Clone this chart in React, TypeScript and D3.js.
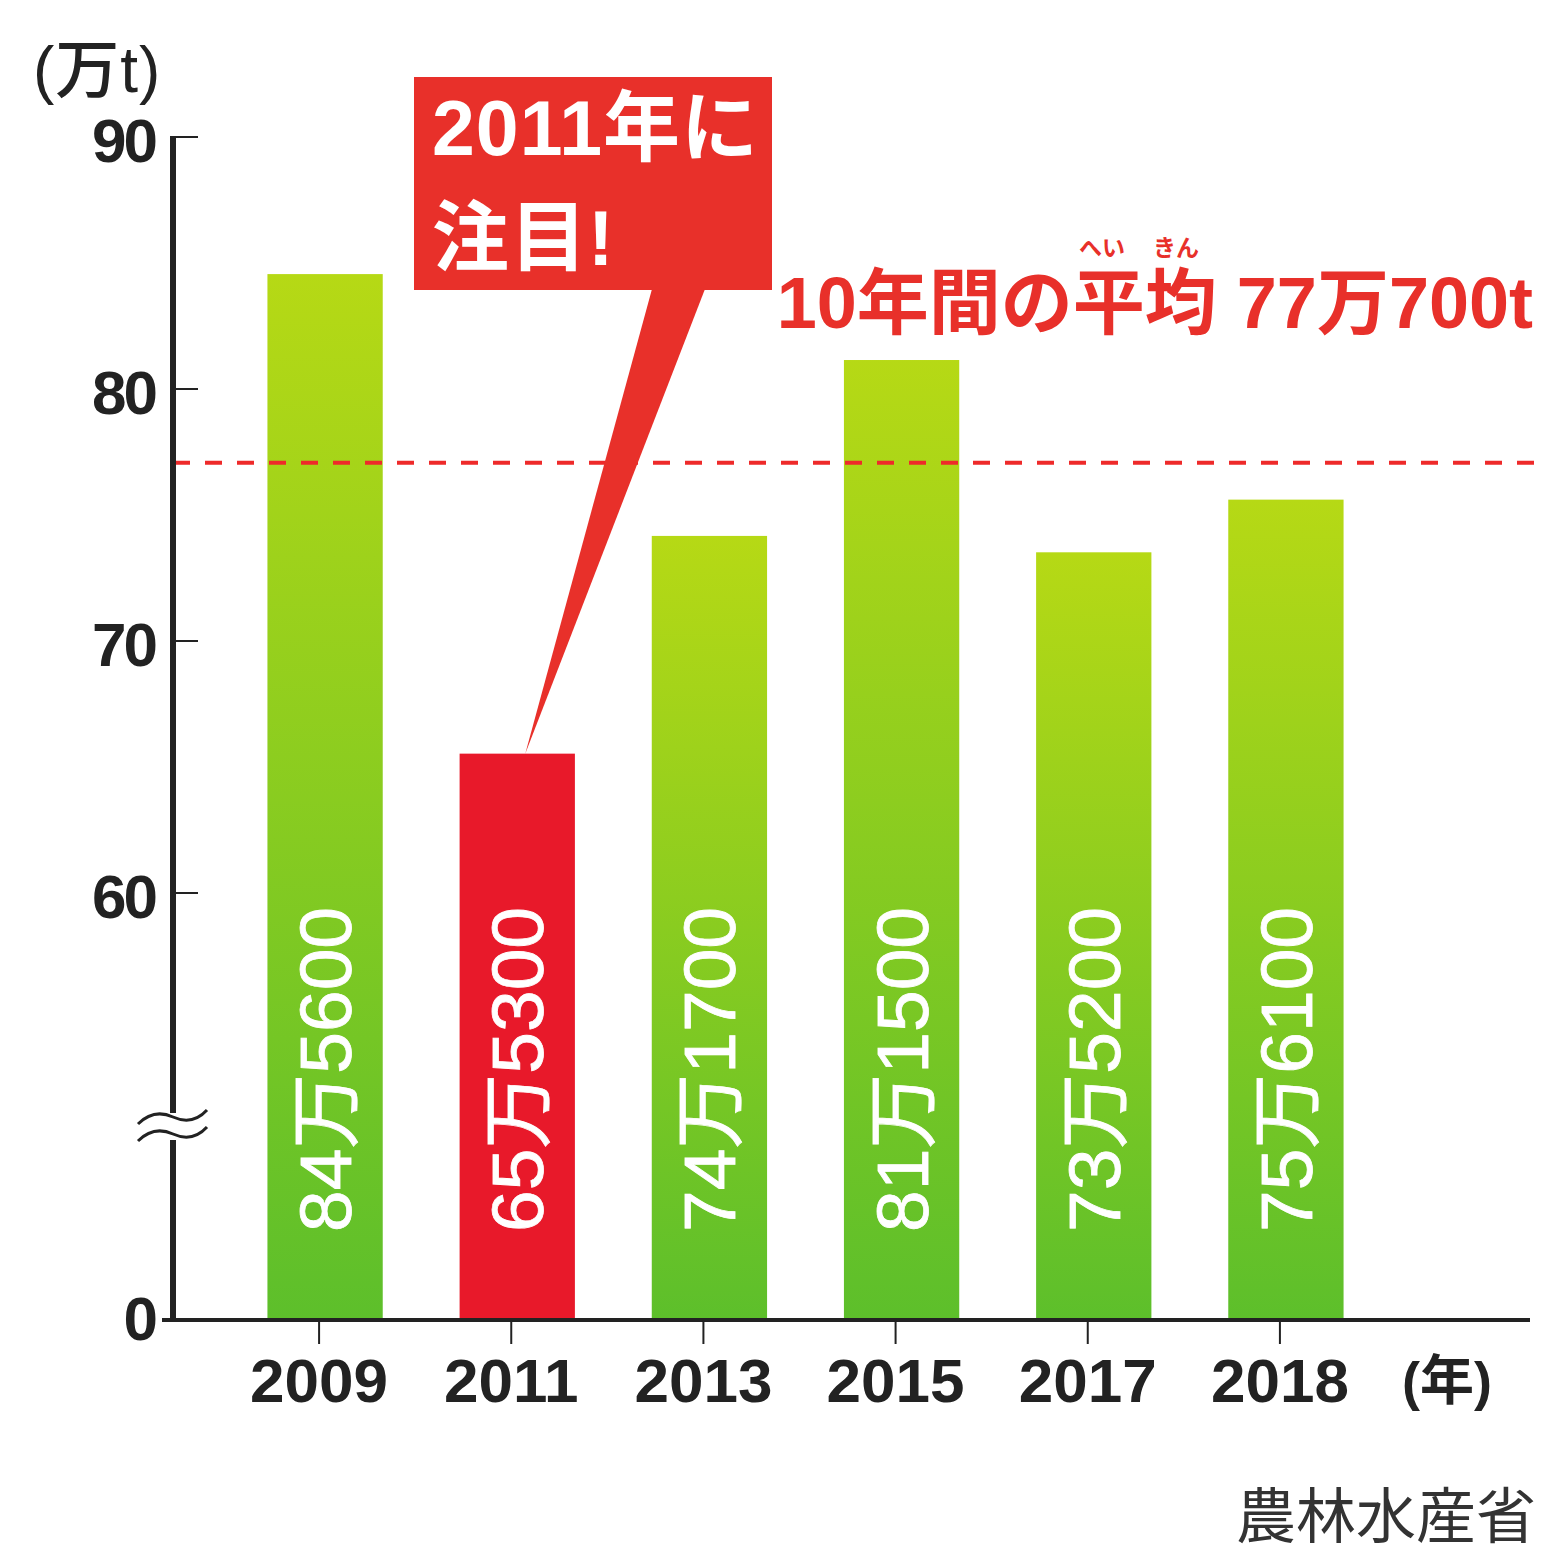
import React from "react";
import * as d3 from "d3";

const years = ["2009", "2011", "2013", "2015", "2017", "2018"];
const values = [84.56, 65.53, 74.17, 81.15, 73.52, 75.61];
const valueLabels = ["84万5600", "65万5300", "74万1700", "81万1500", "73万5200", "75万6100"];
const yTicks = [0, 60, 70, 80, 90];
const average = 77.07;
const averageLabel = "10年間の平均 77万700t";
const highlightYear = "2011";
const calloutLines = ["2011年に", "注目!"];
const unitLabel = "(万t)";
const xUnitLabel = "(年)";
const sourceLabel = "農林水産省";

const W = 1548;
const H = 1564;
const AXIS_X = 173;
const BASE_Y = 1320;
const LATIN = "'Liberation Sans', Arial, 'Noto Sans CJK JP', sans-serif";
const CJK = "'Liberation Sans', 'Noto Sans CJK JP', sans-serif";
const RED = "#e8302a";
const BAR_RED = "#e8192a";

export default function App() {
  const y = d3.scaleLinear().domain([0, 60, 90]).range([BASE_Y, 893, 137]);
  const x = d3.scaleBand<string>().domain(years).range([229, 1382]).paddingInner(0.4).paddingOuter(0.2);
  const bw = x.bandwidth();

  const hiX = (x(highlightYear) as number) + bw / 2;
  const hiVal = values[years.indexOf(highlightYear)];
  const tip: [number, number] = [hiX + 8, y(hiVal)];
  const box = { x0: 414, y0: 77, x1: 772, y1: 290 };
  const pointer = d3.line()([[652, box.y1 - 1], [705, box.y1 - 1], tip]) + "Z";

  const breakY = 1113;
  const wave = (dy: number) =>
    `M138,${breakY + 11 + dy} C150,${breakY - 1 + dy} 162,${breakY - 1 + dy} 173,${breakY + 4 + dy} S196,${breakY + 9 + dy} 207,${breakY - 3 + dy}`;

  return (
    <svg width={W} height={H} style={{ position: "absolute", left: 0, top: 0, background: "#fff" }}>
      <defs>
        <linearGradient id="greenGrad" x1="0" y1="0" x2="0" y2="1">
          <stop offset="0" stopColor="#b6d915" />
          <stop offset="1" stopColor="#5dbf2b" />
        </linearGradient>
      </defs>
      <rect width={W} height={H} fill="#fff" />

      {/* unit label */}
      <text x={33} y={92} fontFamily={CJK} fontSize={64} fontWeight={500} fill="#222" letterSpacing={1}>
        {unitLabel}
      </text>

      {/* bars */}
      {years.map((yr, i) => (
        <rect
          key={yr}
          x={x(yr)}
          y={y(values[i])}
          width={bw}
          height={BASE_Y - y(values[i])}
          fill={yr === highlightYear ? BAR_RED : "url(#greenGrad)"}
        />
      ))}

      {/* average dashed line */}
      <line
        x1={AXIS_X}
        x2={W}
        y1={y(average)}
        y2={y(average)}
        stroke="#ee2a2a"
        strokeWidth={4}
        strokeDasharray="17 15"
      />

      {/* callout */}
      <path d={pointer} fill={RED} />
      <rect x={box.x0} y={box.y0} width={box.x1 - box.x0} height={box.y1 - box.y0} fill={RED} />
      {calloutLines.map((t, i) => (
        <text key={t} x={432} y={155 + i * 110} fontFamily={CJK} fontSize={77} fontWeight={700} fill="#fff" letterSpacing={1}>
          {t}
        </text>
      ))}

      {/* average label */}
      <text x={1533} y={328} textAnchor="end" fontFamily={CJK} fontSize={72} fontWeight={700} fill={RED}>
        {averageLabel}
      </text>
      <text x={1102} y={256} textAnchor="middle" fontFamily="'Noto Sans CJK JP', sans-serif" fontSize={23} fontWeight={700} fill={RED}>
        へい
      </text>
      <text x={1176} y={256} textAnchor="middle" fontFamily="'Noto Sans CJK JP', sans-serif" fontSize={23} fontWeight={700} fill={RED}>
        きん
      </text>

      {/* value labels inside bars */}
      {years.map((yr, i) => {
        const cx = (x(yr) as number) + bw / 2;
        return (
          <text
            key={"v" + yr}
            transform={`translate(${cx + 26},${1232}) rotate(-90)`}
            fontFamily={LATIN}
            fontSize={72}
            fill="#fff"
            stroke="#fff"
            strokeWidth={0.8}
            textLength={325}
            lengthAdjust="spacingAndGlyphs"
          >
            {valueLabels[i]}
          </text>
        );
      })}

      {/* y axis */}
      <line x1={AXIS_X} x2={AXIS_X} y1={y(90) - 1} y2={breakY} stroke="#222" strokeWidth={6} />
      <line x1={AXIS_X} x2={AXIS_X} y1={breakY + 27} y2={BASE_Y} stroke="#222" strokeWidth={6} />
      <path d={wave(0)} fill="none" stroke="#222" strokeWidth={3} />
      <path d={wave(17)} fill="none" stroke="#222" strokeWidth={3} />
      {yTicks.map((t) => (
        <g key={"yt" + t}>
          {t !== 0 && <line x1={AXIS_X} x2={198} y1={y(t)} y2={y(t)} stroke="#222" strokeWidth={2} />}
          <text
            x={155}
            y={y(t) + (t === 0 ? 20 : 25)}
            textAnchor="end"
            fontFamily={LATIN}
            fontSize={62}
            fontWeight={700}
            letterSpacing={-3}
            fill="#222"
          >
            {t}
          </text>
        </g>
      ))}

      {/* x axis */}
      <line x1={162} x2={1530} y1={BASE_Y} y2={BASE_Y} stroke="#222" strokeWidth={4} />
      {years.map((yr) => {
        const cx = (x(yr) as number) + bw / 2 - 6;
        return (
          <g key={"xt" + yr}>
            <line x1={cx} x2={cx} y1={BASE_Y} y2={BASE_Y + 24} stroke="#222" strokeWidth={2} />
            <text x={cx} y={1402} textAnchor="middle" fontFamily={LATIN} fontSize={62} fontWeight={700} fill="#222">
              {yr}
            </text>
          </g>
        );
      })}
      <text x={1402} y={1400} fontFamily={CJK} fontSize={54} fontWeight={700} fill="#222">
        {xUnitLabel}
      </text>

      {/* source */}
      <text x={1536} y={1538} textAnchor="end" fontFamily="'Noto Sans CJK JP', sans-serif" fontSize={60} fill="#333">
        {sourceLabel}
      </text>
    </svg>
  );
}
